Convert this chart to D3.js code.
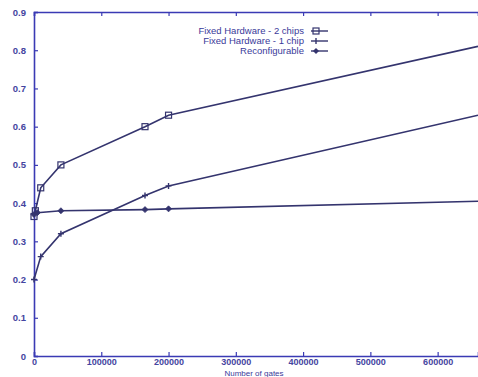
<!DOCTYPE html>
<html>
<head>
<meta charset="utf-8">
<script src="https://cdn.jsdelivr.net/npm/d3@7"></script>
<style>
  body { margin: 0; background: #fff; }
  svg { display: block; }
  .tick text, .legend text, .xlabel { font-family: "Liberation Sans", Arial, sans-serif; fill: #3a3a9a; }
</style>
</head>
<body>
<script>
// gate counts for each measured point
var gates2 = [0, 2000, 10000, 40000, 165000, 200000, 660000];
var hw2chips = [0.365, 0.38, 0.44, 0.50, 0.60, 0.63, 0.81];

var gates1 = [0, 10000, 40000, 165000, 200000, 660000];
var hw1chip = [0.20, 0.26, 0.32, 0.42, 0.445, 0.63];

var gatesR = [0, 5000, 40000, 165000, 200000, 660000];
var reconf = [0.37, 0.375, 0.38, 0.383, 0.385, 0.405];

var xticks = [0, 100000, 200000, 300000, 400000, 500000, 600000];
var yticks = [0, 0.1, 0.2, 0.3, 0.4, 0.5, 0.6, 0.7, 0.8, 0.9];

var seriesNames = ["Fixed Hardware - 2 chips", "Fixed Hardware - 1 chip", "Reconfigurable"];

function draw()
{
    var width = 478, height = 377;
    var left = 34, top = 12, right = 478, bottom = 356;
    var axisColor = "#3a3ab4";
    var lineColor = "#34346e";

    var svg = d3.select("body").append("svg")
        .attr("width", width)
        .attr("height", height);

    var x = d3.scaleLinear().domain([0, 660000]).range([left, right]);
    var y = d3.scaleLinear().domain([0, 0.9]).range([bottom, top]);

    // axes with inward ticks
    var xAxis = d3.axisBottom(x).tickValues(xticks).tickSize(-4).tickPadding(4).tickFormat(d3.format("d"));
    var xTop = d3.axisTop(x).tickValues(xticks).tickSize(-4).tickFormat("");
    var yAxis = d3.axisLeft(y).tickValues(yticks).tickSize(-4).tickPadding(8).tickFormat(function(d) { return d === 0 ? "0" : d3.format(".1f")(d); });

    var gx = svg.append("g").attr("transform", "translate(0," + bottom + ")").call(xAxis);
    var gt = svg.append("g").attr("transform", "translate(0," + top + ")").call(xTop);
    var gy = svg.append("g").attr("transform", "translate(" + left + ",0)").call(yAxis);

    [gx, gt, gy].forEach(function(g) {
        g.select(".domain").attr("stroke", axisColor).attr("stroke-width", 1.6);
        g.selectAll(".tick line").attr("stroke", axisColor).attr("stroke-width", 1.2);
        g.selectAll(".tick text").style("font-size", "9.5px").style("font-weight", "bold").style("fill", "#4444a0");
    });
    gx.selectAll(".tick text").attr("dy", "0.6em").style("font-size", "9px");

    // lines
    var line = d3.line().x(function(d) { return x(d[0]); }).y(function(d) { return y(d[1]); });

    var data2 = d3.zip(gates2, hw2chips);
    var data1 = d3.zip(gates1, hw1chip);
    var dataR = d3.zip(gatesR, reconf);

    [data2, data1, dataR].forEach(function(d) {
        svg.append("path")
            .datum(d)
            .attr("fill", "none")
            .attr("stroke", lineColor)
            .attr("stroke-width", 1.6)
            .attr("d", line);
    });

    // only points inside the visible frame get a marker
    function inside(d) { return x(d[0]) < right - 5; }

    // markers: squares for 2 chips
    svg.selectAll(".sq").data(data2.filter(inside)).enter().append("rect")
        .attr("x", function(d) { return x(d[0]) - 3; })
        .attr("y", function(d) { return y(d[1]) - 3; })
        .attr("width", 6).attr("height", 6)
        .attr("fill", "none").attr("stroke", lineColor).attr("stroke-width", 1.2);

    // plus for 1 chip
    svg.selectAll(".pl").data(data1.filter(inside)).enter().append("path")
        .attr("d", function(d) { var cx = x(d[0]), cy = y(d[1]); return "M" + (cx - 3) + "," + cy + "h6M" + cx + "," + (cy - 3) + "v6"; })
        .attr("stroke", lineColor).attr("stroke-width", 1.4);

    // diamonds for reconfigurable
    svg.selectAll(".dm").data(dataR.filter(inside)).enter().append("path")
        .attr("d", function(d) { var cx = x(d[0]), cy = y(d[1]); return "M" + (cx - 3) + "," + cy + "L" + cx + "," + (cy - 3) + "L" + (cx + 3) + "," + cy + "L" + cx + "," + (cy + 3) + "Z"; })
        .attr("fill", lineColor).attr("stroke", lineColor).attr("stroke-width", 0.8);

    // legend
    var legend = svg.append("g").attr("class", "legend");
    seriesNames.forEach(function(name, i) {
        var ly = 31 + i * 10;
        legend.append("text")
            .text(name)
            .attr("x", 304)
            .attr("y", ly)
            .attr("dy", "0.35em")
            .attr("text-anchor", "end")
            .style("font-size", "9.5px");
        legend.append("line")
            .attr("x1", 311).attr("x2", 328)
            .attr("y1", ly).attr("y2", ly)
            .attr("stroke", lineColor).attr("stroke-width", 1.4);
        var mx = 316;
        if (i === 0) {
            legend.append("rect").attr("x", mx - 3).attr("y", ly - 3).attr("width", 6).attr("height", 6)
                .attr("fill", "none").attr("stroke", lineColor).attr("stroke-width", 1.2);
        } else if (i === 1) {
            legend.append("path").attr("d", "M" + mx + "," + (ly - 3) + "v6").attr("stroke", lineColor).attr("stroke-width", 1.4);
        } else {
            legend.append("path").attr("d", "M" + (mx - 3) + "," + ly + "L" + mx + "," + (ly - 3) + "L" + (mx + 3) + "," + ly + "L" + mx + "," + (ly + 3) + "Z")
                .attr("fill", lineColor);
        }
    });

    // x axis title, squeezed in under the tick labels
    svg.append("text")
        .attr("class", "xlabel")
        .text("Number of gates")
        .attr("x", 254)
        .attr("y", 376)
        .attr("text-anchor", "middle")
        .style("font-size", "8px");
}

draw();
</script>
</body>
</html>
